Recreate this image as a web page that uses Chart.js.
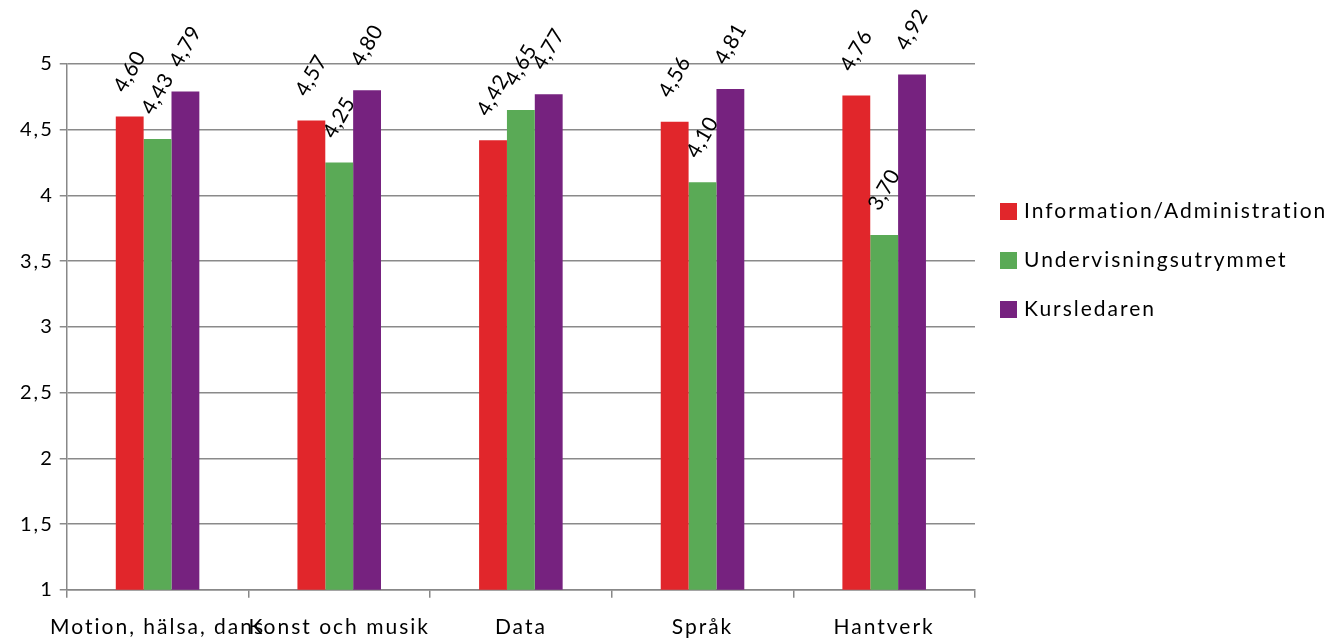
<!DOCTYPE html>
<html>
<head>
<meta charset="utf-8">
<script src="https://cdn.jsdelivr.net/npm/chart.js@4"></script>
<style>
  html, body { margin: 0; padding: 0; background: #fff; }
  #wrap { width: 1333px; height: 638px; position: relative; }
</style>
</head>
<body>
<div id="wrap"><canvas id="c"></canvas></div>
<script>
const categories = ["Motion, hälsa, dans", "Konst och musik", "Data", "Språk", "Hantverk"];
const seriesNames = ["Information/Administration", "Undervisningsutrymmet", "Kursledaren"];
const infoAdmin = [4.60, 4.57, 4.42, 4.56, 4.76];
const undervisning = [4.43, 4.25, 4.65, 4.10, 3.70];
const kursledaren = [4.79, 4.80, 4.77, 4.81, 4.92];
const seriesColors = ["#E1262B", "#5AAA56", "#76227F"];

const FONT = "Lato";
const SPACING = '2px';
const fmt = v => v.toFixed(2).replace('.', ',');

const spacingPlugin = {
  id: 'spacing',
  beforeLayout(chart) { chart.ctx.letterSpacing = SPACING; },
  beforeDraw(chart) { chart.ctx.letterSpacing = SPACING; }
};

const labelPlugin = {
  id: 'barLabels',
  afterDatasetsDraw(chart) {
    const ctx = chart.ctx;
    ctx.save();
    ctx.letterSpacing = '0.5px';
    ctx.fillStyle = '#000';
    ctx.font = '21px ' + FONT;
    ctx.textAlign = 'center';
    ctx.textBaseline = 'middle';
    chart.data.datasets.forEach((ds, di) => {
      const meta = chart.getDatasetMeta(di);
      meta.data.forEach((bar, i) => {
        ctx.save();
        ctx.translate(bar.x, bar.y - 45);
        ctx.rotate(-Math.PI / 3);
        ctx.fillText(fmt(ds.data[i]), 0, 0);
        ctx.restore();
      });
    });
    ctx.restore();
  }
};

const legendPlugin = {
  id: 'sideLegend',
  afterDraw(chart) {
    const ctx = chart.ctx;
    ctx.save();
    ctx.letterSpacing = SPACING;
    ctx.font = '21px ' + FONT;
    ctx.textBaseline = 'middle';
    ctx.textAlign = 'left';
    const ys = [211, 260, 309];
    chart.data.datasets.forEach((ds, di) => {
      ctx.fillStyle = ds.backgroundColor;
      ctx.fillRect(1000, ys[di] - 8, 17, 17);
      ctx.fillStyle = '#000';
      ctx.fillText(ds.label, 1024, ys[di]);
    });
    ctx.restore();
  }
};

new Chart(document.getElementById('c'), {
  type: 'bar',
  data: {
    labels: categories,
    datasets: [
      { label: seriesNames[0], data: infoAdmin, backgroundColor: seriesColors[0] },
      { label: seriesNames[1], data: undervisning, backgroundColor: seriesColors[1] },
      { label: seriesNames[2], data: kursledaren, backgroundColor: seriesColors[2] }
    ]
  },
  options: {
    responsive: true,
    maintainAspectRatio: false,
    animation: false,
    devicePixelRatio: 1,
    layout: { padding: { left: 14, right: 358, top: 64, bottom: -19 } },
    datasets: { bar: { barPercentage: 1, categoryPercentage: 0.46 } },
    plugins: { legend: { display: false }, tooltip: { enabled: false } },
    scales: {
      x: {
        grid: { drawOnChartArea: false, drawTicks: true, tickLength: 8, color: '#888', lineWidth: 1.5, offset: true },
        border: { color: '#888', width: 1.5 },
        ticks: { color: '#000', font: { family: FONT, size: 21 }, padding: 17, maxRotation: 0, autoSkip: false }
      },
      y: {
        min: 1, max: 5,
        grid: { color: '#8a8a8a', lineWidth: 1.5, tickLength: 7 },
        border: { color: '#888', width: 1.5 },
        ticks: { stepSize: 0.5, color: '#000', font: { family: FONT, size: 20 }, padding: 6,
          callback: v => String(v).replace('.', ',') }
      }
    }
  },
  plugins: [spacingPlugin, labelPlugin, legendPlugin]
});
</script>
</body>
</html>
